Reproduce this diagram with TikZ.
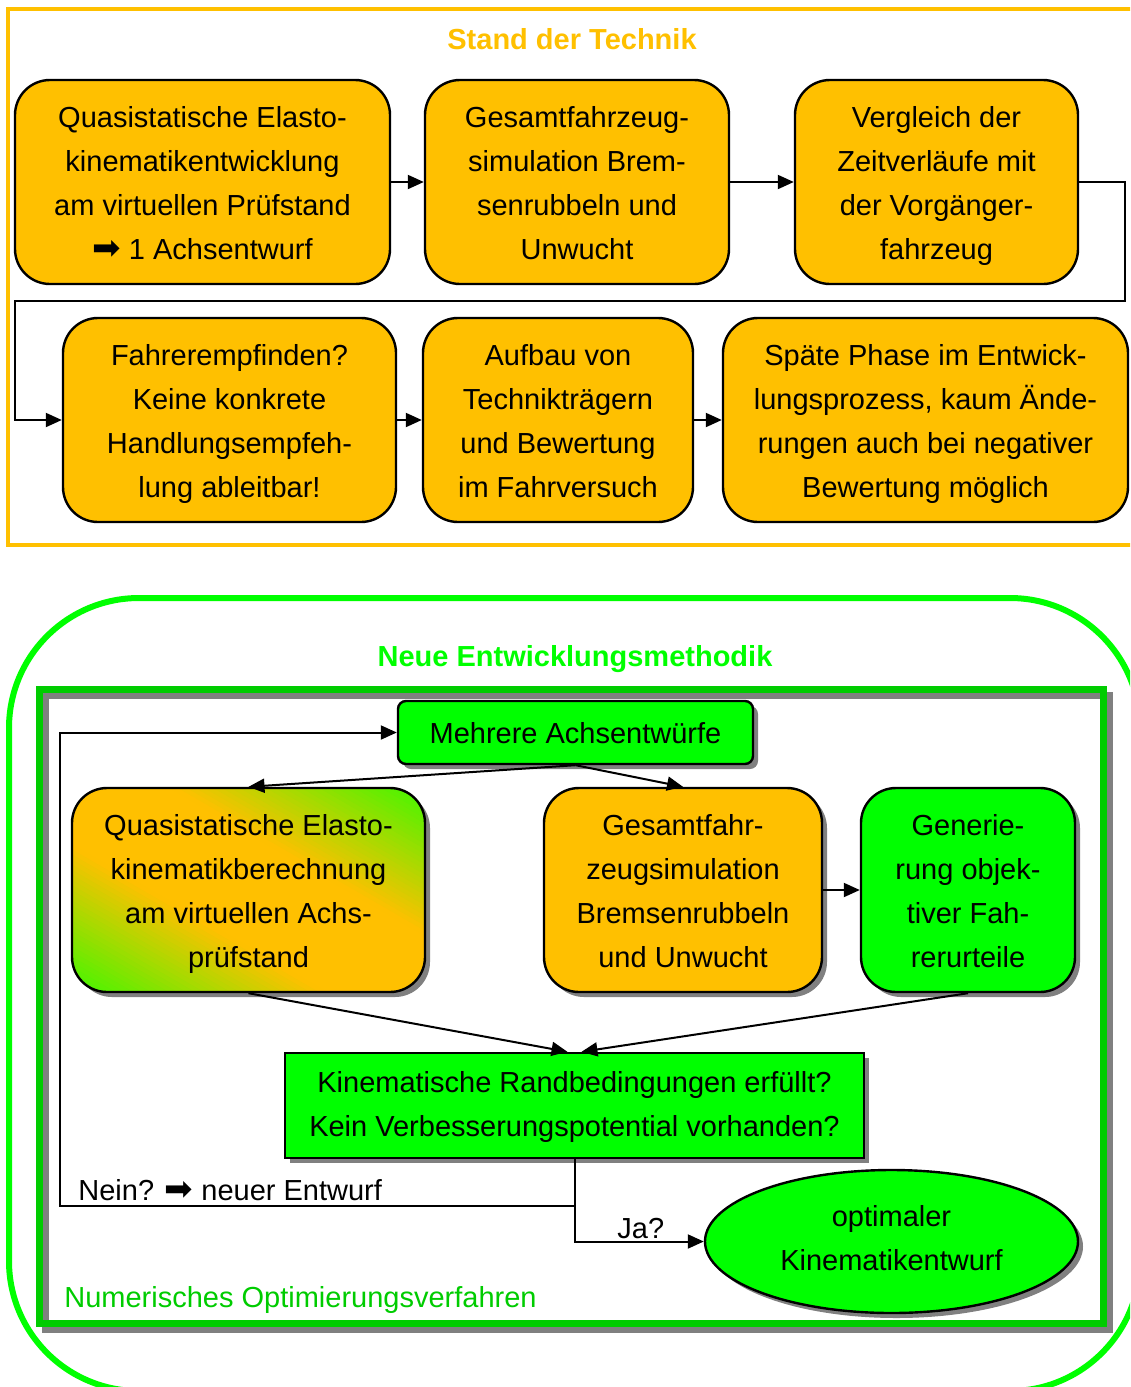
\documentclass[tikz,border=0pt]{standalone}
\usepackage{fontspec}
\setmainfont{Liberation Sans}
\newfontfamily\dejavu{DejaVu Sans}
\usetikzlibrary{arrows.meta,shapes.geometric,shadows,calc}
\definecolor{orng}{HTML}{FFC000}
\definecolor{lgreen}{HTML}{00FF00}
\definecolor{dgreen}{HTML}{00CC00}
\definecolor{shgray}{HTML}{808080}
\definecolor{limetwo}{HTML}{40F800}
\newcommand{\fsz}{\fontsize{14.5}{22}\selectfont}
\newcommand{\harr}{{\dejavu\fontsize{17}{22}\selectfont\symbol{"27A1}}}
\newcommand{\tst}{\rule{0pt}{16.5pt}}
\begin{document}
\begin{tikzpicture}[x=0.5pt,y=-0.5pt,
  box/.style={draw=black, line width=1.2pt, rounded corners=17.5pt, align=center, inner sep=0pt, font=\fsz,
    execute at end node={\rule[-5.5pt]{0pt}{5.5pt}}},
  obox/.style={box, fill=orng},
  gbox/.style={box, fill=lgreen},
  shad/.style={drop shadow={shadow xshift=2.5pt,shadow yshift=-2.5pt,fill=shgray,opacity=1}},
  arr/.style={-{Triangle[length=8pt,width=7pt]}, line width=1pt},
  lbl/.style={inner sep=0pt, font=\fsz}
]
\useasboundingbox (0,0) rectangle (1130,1387);
\clip (0,0) rectangle (1130,1387);
\fill[white] (0,0) rectangle (1130,1387);

% ---------- Stand der Technik ----------
\draw[orng, line width=2pt] (8,9) rectangle (1145,545);
\node[lbl, text=orng, font=\fsz\bfseries, anchor=base] (t1) at (572,49) {Stand der Technik};

\node[obox, minimum width=187.5pt, minimum height=102pt] (a1) at (202.5,182)
  {\tst Quasistatische Elasto-\\kinematikentwicklung\\am virtuellen Prüfstand\\\harr\ 1 Achsentwurf};
\node[obox, minimum width=152pt, minimum height=102pt] (a2) at (577,182)
  {\tst Gesamtfahrzeug-\\simulation Brem-\\senrubbeln und\\Unwucht};
\node[obox, minimum width=141.5pt, minimum height=102pt] (a3) at (936.5,182)
  {\tst Vergleich der\\Zeitverläufe mit\\der Vorgänger-\\fahrzeug};
\node[obox, minimum width=166.5pt, minimum height=102pt] (b1) at (229.5,420)
  {\tst Fahrerempfinden?\\Keine konkrete\\Handlungsempfeh-\\lung ableitbar!};
\node[obox, minimum width=135pt, minimum height=102pt] (b2) at (558,420)
  {\tst Aufbau von\\Technikträgern\\und Bewertung\\im Fahrversuch};
\node[obox, minimum width=202.5pt, minimum height=102pt] (b3) at (925.5,420)
  {\tst Späte Phase im Entwick-\\lungsprozess, kaum Ände-\\rungen auch bei negativer\\Bewertung möglich};

\coordinate (c1) at (1125,301);
\coordinate (c2) at (15,301);
\draw[arr] (a1) -- (a2);
\draw[arr] (a2) -- (a3);
\draw[arr] (a3.east) -| (c1) -- (c2) |- (b1.west);
\draw[arr] (b1) -- (b2);
\draw[arr] (b2) -- (b3);

% ---------- Neue Entwicklungsmethodik ----------
\draw[lgreen, line width=3pt, rounded corners=65pt] (9,598) rectangle (1140,1391);
\node[lbl, text=lgreen, font=\fsz\bfseries, anchor=base] (t2) at (575,666) {Neue Entwicklungsmethodik};

\draw[shgray, line width=3.5pt] (45.5,695.5) rectangle (1109,1329);
\draw[dgreen, line width=3.5pt] (39.5,689.5) rectangle (1103,1323);
\node[lbl, text=dgreen, anchor=base west] (num) at (64,1307) {Numerisches Optimierungsverfahren};

\node[gbox, shad, rounded corners=4pt, minimum width=177.5pt, minimum height=31.5pt] (m) at (575.5,732.5)
  {\tst Mehrere Achsentwürfe};

% gradient box: shadow, diagonal gradient fill, then the node outline and text
\fill[shgray, rounded corners=17.5pt] (77,793) rectangle (430,997);
\begin{scope}
  \clip[rounded corners=17.5pt] (72,788) rectangle (425,992);
  \fill[limetwo] (72,788) rectangle (425,992);
  \foreach \j in {0,...,79} {
    \pgfmathsetmacro\qa{-2+\j*0.05}
    \pgfmathsetmacro\qb{\qa+0.06}
    \pgfmathsetmacro\qp{100*min(1,1.4*(1-abs(\qa+0.025)/2))}
    \fill[orng!\qp!limetwo]
      ({248.5+(\qa/2-3)*176.5},{890-(\qa/2+3)*102}) --
      ({248.5+(\qa/2+3)*176.5},{890-(\qa/2-3)*102}) --
      ({248.5+(\qb/2+3)*176.5},{890-(\qb/2-3)*102}) --
      ({248.5+(\qb/2-3)*176.5},{890-(\qb/2+3)*102}) -- cycle;
  }
\end{scope}
\node[box, minimum width=176.5pt, minimum height=102pt] (q) at (248.5,890)
  {\tst Quasistatische Elasto-\\kinematikberechnung\\am virtuellen Achs-\\prüfstand};

\node[obox, shad, minimum width=139pt, minimum height=102pt] (g) at (683,890)
  {\tst Gesamtfahr-\\zeugsimulation\\Bremsenrubbeln\\und Unwucht};
\node[gbox, shad, minimum width=107pt, minimum height=102pt] (r) at (968,890)
  {\tst Generie-\\rung objek-\\tiver Fah-\\rerurteile};
\node[gbox, shad, rounded corners=0pt, minimum width=289.5pt, minimum height=52.5pt] (k) at (574.5,1105.5)
  {\tst Kinematische Randbedingungen erfüllt?\\Kein Verbesserungspotential vorhanden?\rule[-7.5pt]{0pt}{1pt}};
\node[gbox, shad, ellipse, minimum width=186.5pt, minimum height=71.5pt] (e) at (891.5,1241.5)
  {\tst optimaler\\Kinematikentwurf\rule[-9.5pt]{0pt}{1pt}};

\draw[arr] (m.south) -- (q.north);
\draw[arr] (m.south) -- (g.north);
\draw[arr] (g) -- (r);
\draw[arr] (q.south) -- ([xshift=-3.5pt]k.north);
\draw[arr] (r.south) -- ([xshift=3.5pt]k.north);

\coordinate (lp) at (60,1206);
\draw[arr] (k.south) |- (lp) |- (m.west);
\draw[arr] (k.south) |- (e.west);

\node[lbl, anchor=base west] (nein) at (78,1200) {Nein? \harr\ neuer Entwurf};
\node[lbl, anchor=base west] (ja) at (617,1238) {Ja?};
\end{tikzpicture}
\end{document}
